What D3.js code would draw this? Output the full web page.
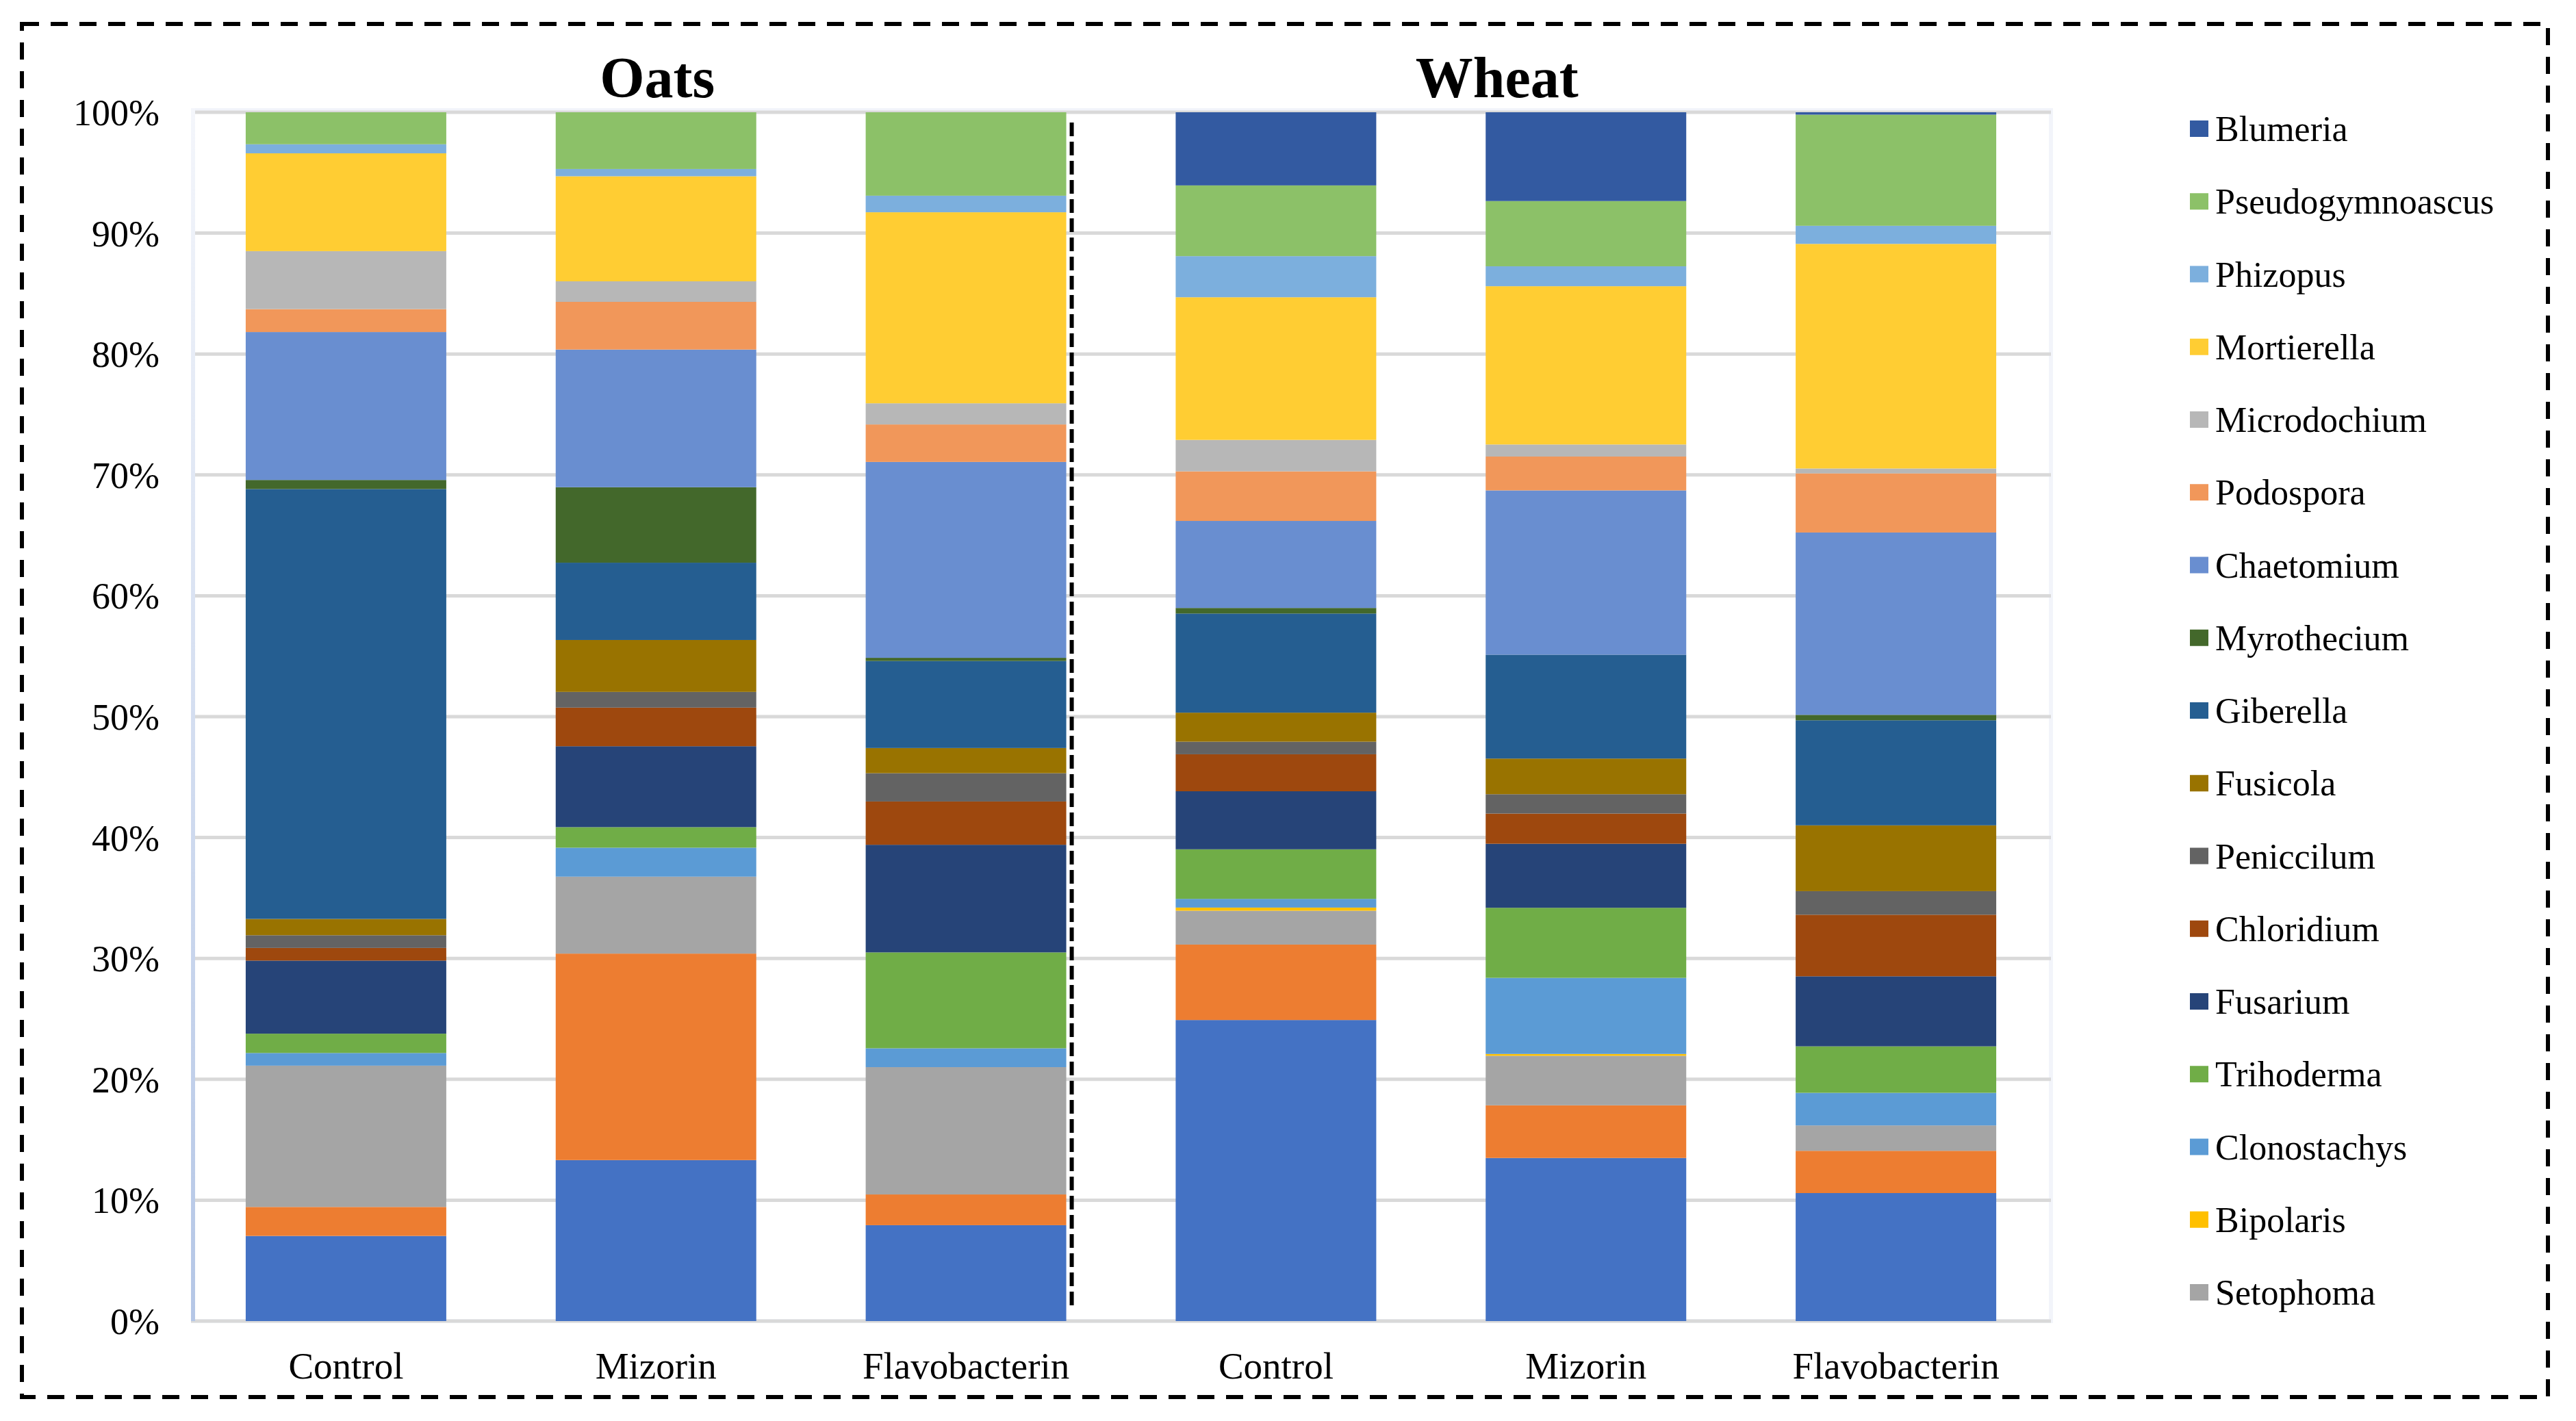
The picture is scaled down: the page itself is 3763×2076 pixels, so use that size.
<!DOCTYPE html>
<html>
<head>
<meta charset="utf-8">
<script src="https://cdn.jsdelivr.net/npm/d3@7"></script>
<style>
  body { margin: 0; background: #fff; }
  svg { display: block; font-family: "Times New Roman", "Liberation Serif", serif; }
</style>
</head>
<body>
<svg id="chart" width="3763" height="2076"></svg>
<script>
// bars, left to right
const crops = ["Oats", "Oats", "Oats", "Wheat", "Wheat", "Wheat"];
const treatments = ["Control", "Mizorin", "Flavobacterin", "Control", "Mizorin", "Flavobacterin"];

// relative abundance (%) per bar
const series1 = [7.05, 13.33, 7.93, 24.9, 13.5, 10.6];       // not named in legend
const series2 = [2.4, 17.1, 2.54, 6.24, 4.36, 3.5];          // not named in legend
const setophoma = [11.7, 6.37, 10.53, 2.8, 4.1, 2.1];
const bipolaris = [0, 0, 0, 0.26, 0.15, 0];
const clonostachys = [1.05, 2.4, 1.56, 0.72, 6.3, 2.7];
const trihoderma = [1.6, 1.7, 7.93, 4.1, 5.8, 3.85];
const fusarium = [6.05, 6.7, 8.9, 4.8, 5.3, 5.8];
const chloridium = [1.05, 3.2, 3.58, 3.06, 2.5, 5.1];
const peniccilum = [1.05, 1.3, 2.34, 1.04, 1.6, 1.95];
const fusicola = [1.35, 4.3, 2.08, 2.4, 2.95, 5.45];
const giberella = [35.6, 6.4, 7.2, 8.2, 8.6, 8.7];
const myrothecium = [0.75, 6.25, 0.26, 0.46, 0, 0.45];
const chaetomium = [12.25, 11.4, 16.2, 7.2, 13.6, 15.1];
const podospora = [1.9, 3.95, 3.1, 4.1, 2.8, 4.9];
const microdochium = [4.8, 1.7, 1.75, 2.6, 1.0, 0.4];
const mortierella = [8.1, 8.7, 15.8, 11.8, 13.1, 18.6];
const phizopus = [0.75, 0.6, 1.37, 3.4, 1.65, 1.5];
const pseudogymnoascus = [2.65, 4.7, 6.9, 5.85, 5.4, 9.2];
const blumeria = [0, 0, 0, 6.05, 7.35, 0.2];

const yTicks = [0, 10, 20, 30, 40, 50, 60, 70, 80, 90, 100];

// stack order bottom -> top
const seriesNames = ["Series1", "Series2", "Setophoma", "Bipolaris", "Clonostachys", "Trihoderma",
  "Fusarium", "Chloridium", "Peniccilum", "Fusicola", "Giberella", "Myrothecium", "Chaetomium",
  "Podospora", "Microdochium", "Mortierella", "Phizopus", "Pseudogymnoascus", "Blumeria"];
const seriesValues = [series1, series2, setophoma, bipolaris, clonostachys, trihoderma,
  fusarium, chloridium, peniccilum, fusicola, giberella, myrothecium, chaetomium,
  podospora, microdochium, mortierella, phizopus, pseudogymnoascus, blumeria];
const colors = ["#4472C4", "#ED7D31", "#A5A5A5", "#FFC000", "#5B9BD5", "#70AD47",
  "#264478", "#9E480E", "#636363", "#997300", "#255E91", "#43682B", "#698ED0",
  "#F1975A", "#B7B7B7", "#FFCD33", "#7CAFDD", "#8CC168", "#335AA1"];
// legend only shows the upper 17 series (top of stack first)
const legendNames = seriesNames.slice(2).reverse();

const svg = d3.select("#chart");
const plot = { left: 279, right: 2996, top: 164, bottom: 1930 };
// titles are not exactly centred over their groups in the original
const titleShift = { Oats: 2, Wheat: -130 };

const rows = crops.map((c, i) => {
  const r = { id: c + " " + treatments[i], crop: c, treatment: treatments[i] };
  seriesNames.forEach((s, k) => { r[s] = seriesValues[k][i]; });
  return r;
});

const x = d3.scaleBand()
  .domain(rows.map(d => d.id))
  .range([plot.left, plot.right])
  .paddingInner(0.353)
  .paddingOuter(0.1765);
const y = d3.scaleLinear()
  .domain([0, 1])
  .range([plot.bottom, plot.top]);
const color = d3.scaleOrdinal().domain(seriesNames).range(colors);

const stacked = d3.stack().keys(seriesNames).offset(d3.stackOffsetExpand)(rows);

// outer dashed frame
svg.append("rect")
  .attr("x", 32).attr("y", 35).attr("width", 3690).attr("height", 2006)
  .attr("fill", "none").attr("stroke", "#000")
  .attr("stroke-width", 6).attr("stroke-dasharray", "25 17");

// plot area border
svg.append("rect")
  .attr("x", plot.left + 3).attr("y", plot.top - 3)
  .attr("width", plot.right - plot.left - 3).attr("height", plot.bottom - plot.top + 3)
  .attr("fill", "none").attr("stroke", "#F2F4FA").attr("stroke-width", 6);

// gridlines
svg.append("g")
  .selectAll("line")
  .data(yTicks)
  .join("line")
  .attr("x1", plot.left).attr("x2", plot.right)
  .attr("y1", d => y(d / 100)).attr("y2", d => y(d / 100))
  .attr("stroke", "#D9D9D9").attr("stroke-width", 5);

// left axis with faint blue gradient
const grad = svg.append("defs").append("linearGradient")
  .attr("id", "axisGrad").attr("x1", 0).attr("y1", 0).attr("x2", 0).attr("y2", 1);
grad.append("stop").attr("offset", "0%").attr("stop-color", "#F4F6FB");
grad.append("stop").attr("offset", "100%").attr("stop-color", "#B4C6E6");
svg.append("rect")
  .attr("x", plot.left).attr("y", plot.top - 6)
  .attr("width", 6).attr("height", plot.bottom - plot.top + 6)
  .attr("fill", "url(#axisGrad)");

// bars
svg.append("g")
  .selectAll("g")
  .data(stacked)
  .join("g")
  .attr("fill", d => color(d.key))
  .selectAll("rect")
  .data(d => d)
  .join("rect")
  .attr("x", d => x(d.data.id))
  .attr("y", d => y(d[1]))
  .attr("width", x.bandwidth())
  .attr("height", d => Math.max(0, y(d[0]) - y(d[1])));

// y tick labels
svg.append("g")
  .selectAll("text")
  .data(yTicks)
  .join("text")
  .attr("x", 233)
  .attr("y", d => y(d / 100))
  .attr("dy", "0.35em")
  .attr("text-anchor", "end")
  .attr("font-size", 54)
  .text(d => d + "%");

// x labels
svg.append("g")
  .selectAll("text")
  .data(rows)
  .join("text")
  .attr("x", d => x(d.id) + x.bandwidth() / 2)
  .attr("y", 2014)
  .attr("text-anchor", "middle")
  .attr("font-size", 55)
  .text(d => d.treatment);

// crop titles over their three bars
const cropNames = Array.from(new Set(crops));
svg.append("g")
  .selectAll("text")
  .data(cropNames)
  .join("text")
  .attr("x", c => {
    const ids = rows.filter(r => r.crop === c).map(r => r.id);
    return (x(ids[0]) + x(ids[ids.length - 1]) + x.bandwidth()) / 2 + titleShift[c];
  })
  .attr("y", 142)
  .attr("text-anchor", "middle")
  .attr("font-size", 84)
  .attr("font-weight", "bold")
  .text(c => c);

// dashed separator between oats and wheat
const lastOats = rows.filter(r => r.crop === "Oats").pop().id;
const sepX = x(lastOats) + x.bandwidth() + 8;
svg.append("line")
  .attr("x1", sepX).attr("x2", sepX)
  .attr("y1", 179).attr("y2", 1915)
  .attr("stroke", "#000").attr("stroke-width", 6)
  .attr("stroke-dasharray", "20 8");

// legend
const legend = svg.append("g")
  .selectAll("g")
  .data(legendNames)
  .join("g")
  .attr("transform", (d, i) => `translate(3199,${188 + i * 106.25})`);
legend.append("rect")
  .attr("x", 0).attr("y", -12)
  .attr("width", 27).attr("height", 24)
  .attr("fill", d => color(d));
legend.append("text")
  .attr("x", 37)
  .attr("y", 0)
  .attr("dy", "0.35em")
  .attr("font-size", 52)
  .text(d => d);
</script>
</body>
</html>
